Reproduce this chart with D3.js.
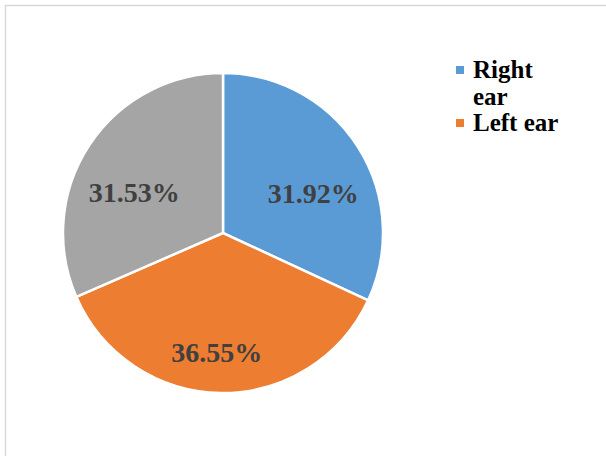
<!DOCTYPE html>
<html>
<head>
<meta charset="utf-8">
<script src="https://cdn.jsdelivr.net/npm/d3@7"></script>
<style>
  body { margin: 0; background: #fff; }
  svg { display: block; }
</style>
</head>
<body>
<div id="chart"></div>
<script>
// data
var categories = ["Right ear", "Left ear", "Both ears"];
var values = [31.92, 36.55, 31.53];
var colors = ["#5b9bd5", "#ed7d31", "#a5a5a5"];
var legendShown = 2; // only two entries are visible in the original legend

var width = 606, height = 456;
var cx = 223, cy = 233, radius = 160;
var serif = "'Liberation Serif', 'Times New Roman', Times, serif";

var svg = d3.select("#chart").append("svg")
    .attr("width", width)
    .attr("height", height);

// chart frame (only top and left edges show)
svg.append("rect")
    .attr("x", 5.5).attr("y", 5.5)
    .attr("width", width + 20).attr("height", height + 20)
    .attr("fill", "none")
    .attr("stroke", "#d9d9d9")
    .attr("stroke-width", 1.5);

var pie = d3.pie().sort(null).value(function(d) { return d; });
var arcs = pie(values);

var arc = d3.arc().innerRadius(0).outerRadius(radius);
var labelArc = d3.arc().innerRadius(100).outerRadius(100);

var g = svg.append("g").attr("transform", "translate(" + cx + "," + cy + ")");

g.selectAll("path")
  .data(arcs)
  .enter().append("path")
    .attr("d", arc)
    .attr("fill", function(d, i) { return colors[i]; })
    .attr("stroke", "#fff")
    .attr("stroke-width", 2.5);

g.selectAll("text")
  .data(arcs)
  .enter().append("text")
    .attr("transform", function(d, i) {
      var c = labelArc.centroid(d);
      // excel "best fit" nudges the side labels lower and outward
      if (i == 1) c = [c[0] - 5, 119];
      else c = [c[0] + (c[0] > 0 ? 6 : -5), c[1] + 14];
      return "translate(" + c + ")";
    })
    .attr("text-anchor", "middle")
    .attr("dy", "0.35em")
    .attr("font-family", serif)
    .attr("font-weight", "bold")
    .attr("font-size", 28)
    .attr("fill", "#404040")
    .text(function(d) { return d.value.toFixed(2) + "%"; });

// legend
var legend = svg.append("g").attr("transform", "translate(456,0)");
var lineY = [78, 131];
var maxW = 92;

categories.slice(0, legendShown).forEach(function(name, i) {
  legend.append("rect")
      .attr("x", 0).attr("y", lineY[i] - 12)
      .attr("width", 8).attr("height", 8)
      .attr("fill", colors[i]);

  var t = legend.append("text")
      .attr("x", 17).attr("y", lineY[i])
      .attr("font-family", serif)
      .attr("font-weight", "bold")
      .attr("font-size", 25)
      .attr("fill", "#000");

  // simple word wrap
  var words = name.split(" "), line = [];
  var tspan = t.append("tspan").attr("x", 17);
  words.forEach(function(w) {
    line.push(w);
    tspan.text(line.join(" "));
    if (tspan.node().getComputedTextLength() > maxW && line.length > 1) {
      line.pop();
      tspan.text(line.join(" "));
      line = [w];
      tspan = t.append("tspan").attr("x", 17).attr("dy", 27).text(w);
    }
  });
});
</script>
</body>
</html>
